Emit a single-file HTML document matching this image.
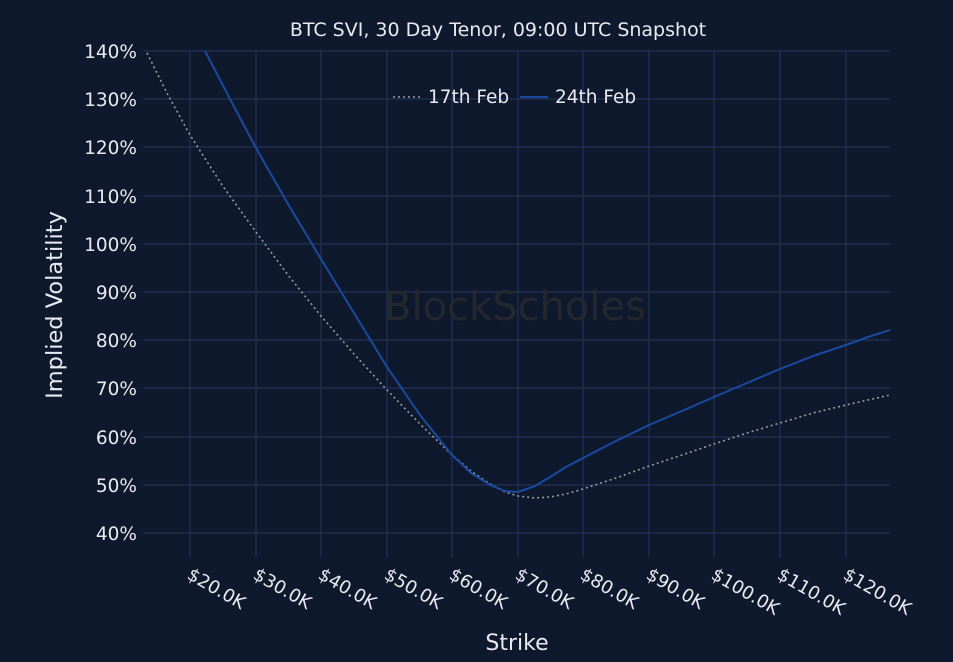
<!DOCTYPE html>
<html><head><style>
html,body{margin:0;padding:0;background:#0f192d;}
svg{display:block;font-family:"DejaVu Sans","Liberation Sans",sans-serif;}
</style></head><body>
<svg width="953" height="662" viewBox="0 0 953 662">
<rect width="953" height="662" fill="#0f192d"/>
<g stroke="#233157" stroke-width="1.2">
<line x1="190" y1="50" x2="190" y2="557"/><line x1="256" y1="50" x2="256" y2="557"/>
<line x1="321" y1="50" x2="321" y2="557"/><line x1="387" y1="50" x2="387" y2="557"/>
<line x1="452" y1="50" x2="452" y2="557"/><line x1="518" y1="50" x2="518" y2="557"/>
<line x1="583" y1="50" x2="583" y2="557"/><line x1="649" y1="50" x2="649" y2="557"/>
<line x1="714" y1="50" x2="714" y2="557"/><line x1="780" y1="50" x2="780" y2="557"/>
<line x1="846" y1="50" x2="846" y2="557"/>
<line x1="143" y1="51" x2="890" y2="51"/><line x1="143" y1="99" x2="890" y2="99"/>
<line x1="143" y1="147" x2="890" y2="147"/><line x1="143" y1="196" x2="890" y2="196"/>
<line x1="143" y1="244" x2="890" y2="244"/><line x1="143" y1="292" x2="890" y2="292"/>
<line x1="143" y1="340" x2="890" y2="340"/><line x1="143" y1="388" x2="890" y2="388"/>
<line x1="143" y1="437" x2="890" y2="437"/><line x1="143" y1="485" x2="890" y2="485"/>
<line x1="143" y1="533" x2="890" y2="533"/>
</g>
<text x="515" y="320" font-size="40" fill="#25272f" text-anchor="middle">BlockScholes</text>
<g fill="#e8eaf0" font-size="18.5" text-anchor="end">
<text x="137" y="58">140%</text><text x="137" y="106">130%</text><text x="137" y="154">120%</text>
<text x="137" y="203">110%</text><text x="137" y="251">100%</text><text x="137" y="299">90%</text>
<text x="137" y="347">80%</text><text x="137" y="395">70%</text><text x="137" y="444">60%</text>
<text x="137" y="492">50%</text><text x="137" y="540">40%</text>
</g>
<g fill="#e8eaf0" font-size="18">
<text transform="translate(186,578) rotate(30)">$20.0K</text>
<text transform="translate(252,578) rotate(30)">$30.0K</text>
<text transform="translate(317,578) rotate(30)">$40.0K</text>
<text transform="translate(383,578) rotate(30)">$50.0K</text>
<text transform="translate(448,578) rotate(30)">$60.0K</text>
<text transform="translate(514,578) rotate(30)">$70.0K</text>
<text transform="translate(579,578) rotate(30)">$80.0K</text>
<text transform="translate(645,578) rotate(30)">$90.0K</text>
<text transform="translate(710,578) rotate(30)">$100.0K</text>
<text transform="translate(776,578) rotate(30)">$110.0K</text>
<text transform="translate(842,578) rotate(30)">$120.0K</text>
</g>
<text x="498" y="36" fill="#e8eaf0" font-size="19" text-anchor="middle">BTC SVI, 30 Day Tenor, 09:00 UTC Snapshot</text>
<text x="517" y="650" fill="#e8eaf0" font-size="22" text-anchor="middle">Strike</text>
<text transform="translate(62,305) rotate(-90)" fill="#e8eaf0" font-size="22.5" text-anchor="middle">Implied Volatility</text>
<line x1="393" y1="97" x2="420" y2="97" stroke="#9a9aa0" stroke-width="1.5" stroke-dasharray="2,3"/>
<text x="428" y="103" fill="#e8eaf0" font-size="18.5">17th Feb</text>
<line x1="520" y1="97" x2="548" y2="97" stroke="#1a4aa0" stroke-width="2"/>
<text x="555" y="103" fill="#e8eaf0" font-size="18.5">24th Feb</text>
<polyline fill="none" stroke="#9a9aa0" stroke-width="1.6" stroke-dasharray="2,3" stroke-linejoin="round"
points="147,53 168,95 190,135 222,185 256,232 288,275 321,316 354,354 387,390 420,424 452,455 471,471 490,484 505,492 518,496 535,498 550,497 566,494 583,489 616,478 649,466 682,455 714,444 747,433 780,423 813,413 846,405 868,400 890,395"/>
<polyline fill="none" stroke="#1a4aa0" stroke-width="2" stroke-linejoin="round"
points="205,51 230,99 256,148 288,204 321,259 354,313 387,367 420,415 452,455 471,473 490,485 505,491 518,492 535,486 550,477 566,467 583,458 616,441 649,425 682,411 714,397 747,383 780,369 813,356 846,345 868,337 890,330"/>
</svg>
</body></html>
